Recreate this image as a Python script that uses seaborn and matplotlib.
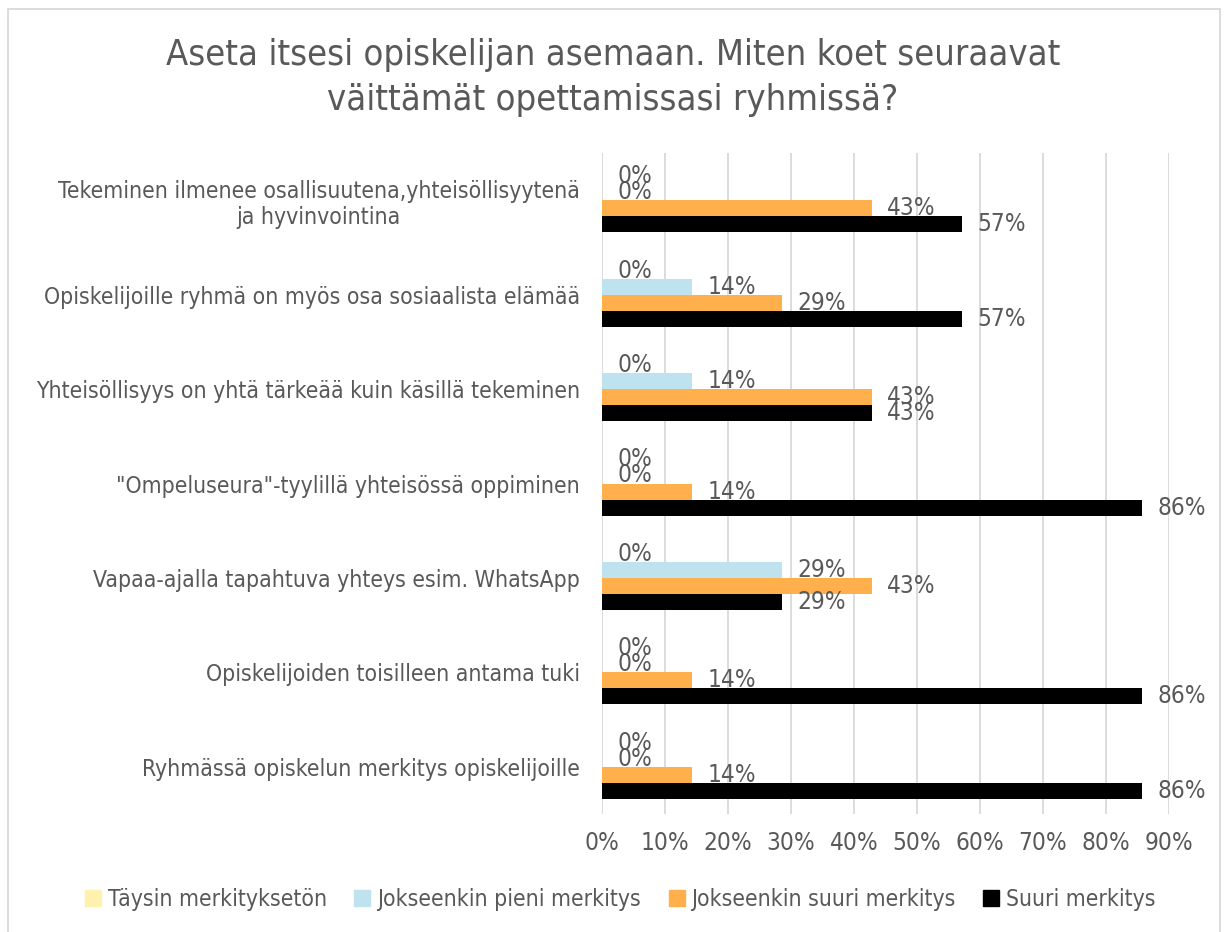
import numpy as np
import pandas as pd
import matplotlib
matplotlib.use("Agg")
import matplotlib.pyplot as plt
from matplotlib.patches import Rectangle
import seaborn as sns

sns.set_style("white")
plt.rcParams['font.family'] = ['DejaVu Sans']
plt.rcParams['font.stretch'] = 'condensed'

statements = [
    "Tekeminen ilmenee osallisuutena,yhteisöllisyytenä\nja hyvinvointina",
    "Opiskelijoille ryhmä on myös osa sosiaalista elämää",
    "Yhteisöllisyys on yhtä tärkeää kuin käsillä tekeminen",
    "\"Ompeluseura\"-tyylillä yhteisössä oppiminen",
    "Vapaa-ajalla tapahtuva yhteys esim. WhatsApp",
    "Opiskelijoiden toisilleen antama tuki",
    "Ryhmässä opiskelun merkitys opiskelijoille",
]
levels = ["Täysin merkityksetön", "Jokseenkin pieni merkitys",
          "Jokseenkin suuri merkitys", "Suuri merkitys"]

taysin = [0, 0, 0, 0, 0, 0, 0]
pieni = [0, 14.29, 14.29, 0, 28.57, 0, 0]
suuri = [42.86, 28.57, 42.86, 14.29, 42.86, 14.29, 14.29]
tosi_suuri = [57.14, 57.14, 42.86, 85.71, 28.57, 85.71, 85.71]

colour = ['#FFF2AE', '#BEE3EE', '#FFB04C', '#000000']
text_col = '#595959'

rows = []
for lvl, vals in zip(levels, [taysin, pieni, suuri, tosi_suuri]):
    for s, v in zip(statements, vals):
        rows.append({"statement": s, "level": lvl, "value": v})
df = pd.DataFrame(rows)

fig = plt.figure(figsize=(12.26, 9.32), dpi=100)
ax = fig.add_axes([0.491, 0.1266, 0.4625, 0.7092])

sns.barplot(data=df, x="value", y="statement", hue="level", hue_order=levels,
            order=statements, palette=colour, orient='h', width=0.68,
            saturation=1, linewidth=0, ax=ax, legend=False)

for cont in ax.containers:
    labels = [f"{b.get_width():.0f}%" for b in cont]
    ax.bar_label(cont, labels=labels, padding=11, fontsize=17.5, color=text_col)

ax.set_xlim(0, 90)
ax.set_xticks(np.arange(0, 91, 10))
ax.set_xticklabels([f"{t}%" for t in range(0, 91, 10)])
ax.xaxis.grid(True, color='#D9D9D9', linewidth=1.3)
ax.set_axisbelow(True)
for sp in ax.spines.values():
    sp.set_visible(False)
ax.set_xlabel("")
ax.set_ylabel("")
ax.tick_params(axis='x', colors=text_col, labelsize=17.5, length=0, pad=12)
ax.tick_params(axis='y', colors=text_col, labelsize=16.5, length=0, pad=16)
for t in ax.get_yticklabels():
    t.set_multialignment('center')

fig.text(0.5, 1 - 55 / 932, "Aseta itsesi opiskelijan asemaan. Miten koet seuraavat",
         ha='center', va='center', fontsize=26, color=text_col)
fig.text(0.5, 1 - 100 / 932, "väittämät opettamissasi ryhmissä?",
         ha='center', va='center', fontsize=26, color=text_col)

handles = [Rectangle((0, 0), 1, 1, color=c) for c in colour]
fig.legend(handles, levels, loc='center', bbox_to_anchor=(0.506, 0.035), ncol=4,
           frameon=False, fontsize=16.5, labelcolor=text_col, handlelength=0.7,
           handleheight=0.7, handletextpad=0.3, columnspacing=1.2)

fig.patches.append(Rectangle((8 / 1226, -0.02), 1212 / 1226, 1 - 9 / 932 + 0.02,
                             transform=fig.transFigure, fill=False,
                             edgecolor='#D9D9D9', linewidth=1.3))

fig.savefig("out.png", dpi=100)
